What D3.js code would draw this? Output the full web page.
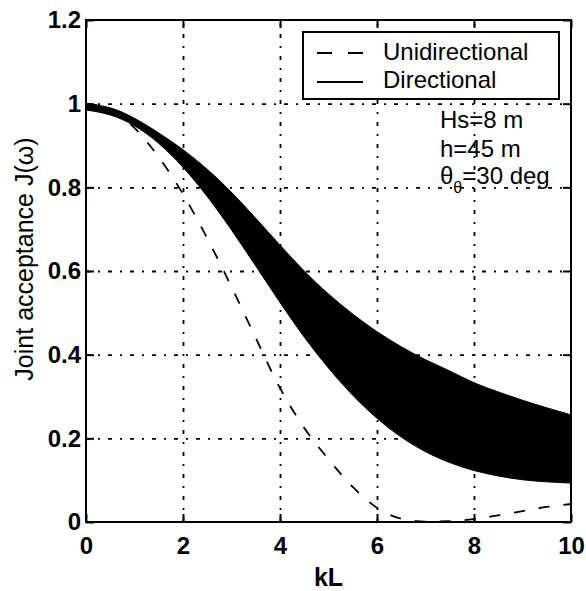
<!DOCTYPE html>
<html>
<head>
<meta charset="utf-8">
<script src="https://cdn.jsdelivr.net/npm/d3@7"></script>
<style>
  body { margin: 0; background: #fff; }
  svg { display: block; }
  text { font-family: "Liberation Sans", Arial, Helvetica, sans-serif; fill: #000; }
</style>
</head>
<body>
<div id="chart"></div>
<script>
// values
const kL = [0, 0.5, 1, 1.5, 2, 2.5, 3, 3.5, 4, 4.5, 5, 5.5, 6, 6.5, 7, 7.5, 8, 8.5, 9, 9.5, 10];
const unidirectional = [1.0, 0.985, 0.942, 0.872, 0.784, 0.678, 0.562, 0.44, 0.32, 0.225, 0.15, 0.084, 0.034, 0.008, 0.001, 0.002, 0.007, 0.016, 0.026, 0.036, 0.043];
const directionalUpper = [1.0, 0.99, 0.965, 0.93, 0.89, 0.843, 0.788, 0.726, 0.662, 0.6, 0.545, 0.497, 0.455, 0.419, 0.388, 0.361, 0.333, 0.311, 0.291, 0.273, 0.256];
const directionalLower = [0.985, 0.973, 0.947, 0.905, 0.848, 0.778, 0.698, 0.612, 0.525, 0.442, 0.368, 0.303, 0.248, 0.203, 0.168, 0.142, 0.123, 0.11, 0.101, 0.096, 0.093];

const xTicks = [0, 2, 4, 6, 8, 10];
const xTickLabels = ['0', '2', '4', '6', '8', '10'];
const yTicks = [0, 0.2, 0.4, 0.6, 0.8, 1, 1.2];
const yTickLabels = ['0', '0.2', '0.4', '0.6', '0.8', '1', '1.2'];

const seriesNames = ['Unidirectional', 'Directional'];
const notes = ['Hs=8 m', 'h=45 m'];

const opts = {
  width: 586, height: 591,
  left: 86, right: 571, top: 20, bottom: 522,
  tick: 8, gridDash: '4,8,2,8', lineDash: '11,14'
};

function drawChart(){
  const svg = d3.select('#chart')
    .append('svg')
    .attr('width', opts.width)
    .attr('height', opts.height);

  const x = d3.scaleLinear().domain([0, 10]).range([opts.left, opts.right]);
  const y = d3.scaleLinear().domain([0, 1.2]).range([opts.bottom, opts.top]);
  const h = opts.bottom - opts.top;
  const w = opts.right - opts.left;

  // dotted grid
  const gx = svg.append('g')
    .attr('transform', `translate(0 ${opts.bottom})`)
    .call(d3.axisBottom(x).tickValues(xTicks.slice(1, -1)).tickSize(-h).tickFormat(''));
  const gy = svg.append('g')
    .attr('transform', `translate(${opts.left} 0)`)
    .call(d3.axisLeft(y).tickValues(yTicks.slice(1, -1)).tickSize(-w).tickFormat(''));
  [gx, gy].forEach(g => {
    g.select('.domain').remove();
    g.selectAll('line')
      .attr('stroke', '#000')
      .attr('stroke-width', 1.8)
      .attr('stroke-dasharray', opts.gridDash);
  });

  // directional band
  const band = d3.area()
    .x((d, i) => x(kL[i]))
    .y0((d, i) => y(directionalLower[i]))
    .y1((d, i) => y(directionalUpper[i]))
    .curve(d3.curveNatural);
  svg.append('path')
    .attr('d', band(kL))
    .attr('fill', '#000')
    .attr('stroke', '#000')
    .attr('stroke-width', 1);

  // unidirectional dashed
  const line = d3.line()
    .x((d, i) => x(kL[i]))
    .y(d => y(d))
    .curve(d3.curveMonotoneX);
  svg.append('path')
    .attr('d', line(unidirectional))
    .attr('fill', 'none')
    .attr('stroke', '#000')
    .attr('stroke-width', 1.8)
    .attr('stroke-dasharray', opts.lineDash);

  // box
  svg.append('rect')
    .attr('x', opts.left).attr('y', opts.top)
    .attr('width', w).attr('height', h)
    .attr('fill', 'none')
    .attr('stroke', '#000')
    .attr('stroke-width', 2);

  // axes with inward ticks
  const axB = svg.append('g')
    .attr('transform', `translate(0 ${opts.bottom})`)
    .call(d3.axisBottom(x).tickValues(xTicks).tickSizeInner(-opts.tick).tickSizeOuter(0)
      .tickPadding(15).tickFormat((d, i) => xTickLabels[i]));
  const axL = svg.append('g')
    .attr('transform', `translate(${opts.left} 0)`)
    .call(d3.axisLeft(y).tickValues(yTicks).tickSizeInner(-opts.tick).tickSizeOuter(0)
      .tickPadding(5).tickFormat((d, i) => yTickLabels[i]));
  const axT = svg.append('g')
    .attr('transform', `translate(0 ${opts.top})`)
    .call(d3.axisTop(x).tickValues(xTicks).tickSizeInner(-opts.tick).tickSizeOuter(0).tickFormat(''));
  const axR = svg.append('g')
    .attr('transform', `translate(${opts.right} 0)`)
    .call(d3.axisRight(y).tickValues(yTicks).tickSizeInner(-opts.tick).tickSizeOuter(0).tickFormat(''));
  [axB, axL, axT, axR].forEach(g => {
    g.select('.domain').remove();
    g.selectAll('line').attr('stroke', '#000').attr('stroke-width', 2);
    g.selectAll('text')
      .attr('font-size', 24)
      .attr('font-weight', 'bold')
      .attr('font-family', '"Liberation Sans", Arial, sans-serif')
      .attr('fill', '#000');
  });

  // axis titles
  svg.append('text')
    .attr('x', x(5)).attr('y', 586)
    .attr('text-anchor', 'middle')
    .attr('font-size', 25)
    .attr('font-weight', 'bold')
    .text('kL');
  svg.append('text')
    .attr('transform', `translate(33 ${(opts.top + opts.bottom) / 2 - 12}) rotate(-90)`)
    .attr('text-anchor', 'middle')
    .attr('font-size', 25)
    .text('Joint acceptance J(ω)');

  // legend
  const lg = svg.append('g').attr('id', 'legend');
  lg.append('rect')
    .attr('x', 303).attr('y', 32)
    .attr('width', 256).attr('height', 67)
    .attr('fill', '#fff')
    .attr('stroke', '#000')
    .attr('stroke-width', 2);
  lg.selectAll('line')
    .data(seriesNames)
    .join('line')
      .attr('x1', 317).attr('x2', 363)
      .attr('y1', (d, i) => 53 + i * 29)
      .attr('y2', (d, i) => 53 + i * 29)
      .attr('stroke', '#000')
      .attr('stroke-width', 2)
      .attr('stroke-dasharray', (d, i) => i === 0 ? '15,16' : null);
  lg.selectAll('text')
    .data(seriesNames)
    .join('text')
      .attr('x', 383)
      .attr('y', (d, i) => 60 + i * 28)
      .attr('font-size', 24)
      .text(d => d);

  // case notes
  const nt = svg.append('g').attr('id', 'notes');
  nt.selectAll('text.note')
    .data(notes)
    .join('text')
      .attr('class', 'note')
      .attr('x', 440)
      .attr('y', (d, i) => 128 + i * 29)
      .attr('font-size', 24)
      .text(d => d);
  const th = nt.append('text')
    .attr('x', 440).attr('y', 184)
    .attr('font-size', 24);
  th.append('tspan').text('θ');
  th.append('tspan').attr('dy', 9).attr('font-size', 16).text('θ');
  th.append('tspan').attr('dy', -9).text('=30 deg');
}

drawChart();
</script>
</body>
</html>
